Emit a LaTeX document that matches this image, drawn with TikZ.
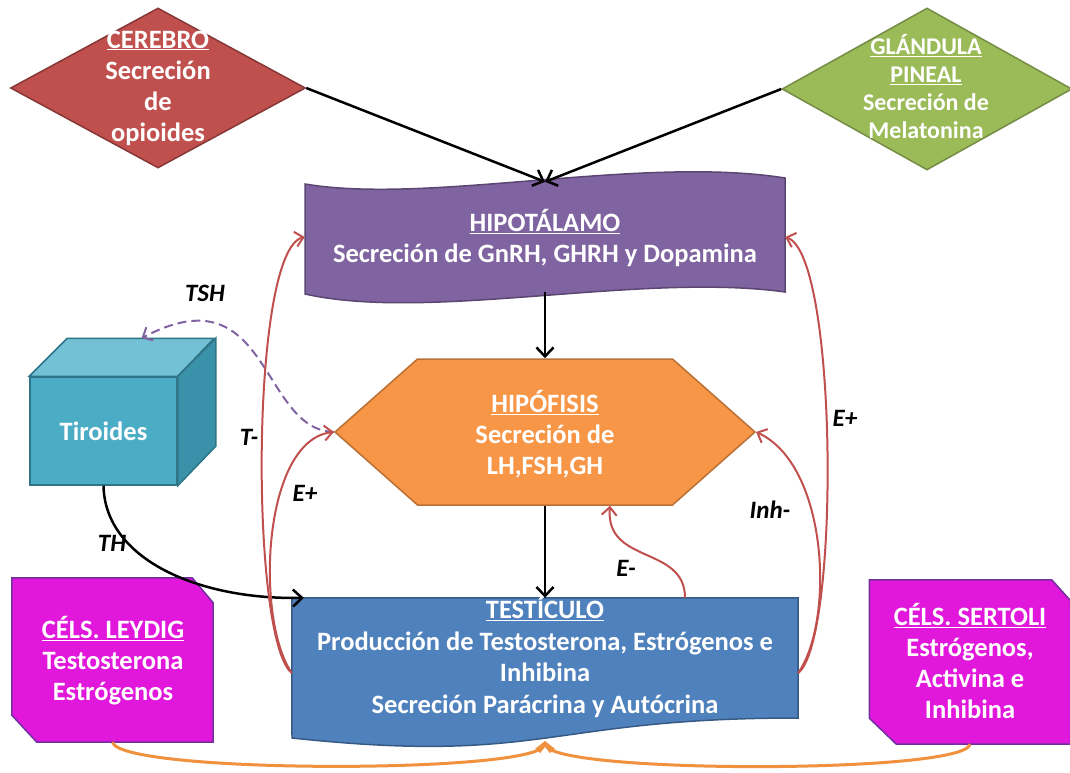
\documentclass[tikz,border=0pt]{standalone}
\usepackage{fontspec}
\setmainfont{Carlito}
\usetikzlibrary{shapes.geometric,shapes.symbols,arrows.meta}

\definecolor{brainred}{HTML}{C0504D}
\definecolor{pinealgreen}{HTML}{9BBB59}
\definecolor{hypopurple}{HTML}{8064A2}
\definecolor{pitorange}{HTML}{F79646}
\definecolor{thyblue}{HTML}{4BACC6}
\definecolor{thytop}{HTML}{74C0D5}
\definecolor{thyside}{HTML}{3A92AA}
\definecolor{testblue}{HTML}{4F81BD}
\definecolor{cellpink}{HTML}{E117DB}
\definecolor{cellrim}{HTML}{7030A0}
\definecolor{braceorange}{HTML}{F0913F}

\tikzset{
  organ/.style={line width=1.5pt},
  txt/.style={text=white, font=\bfseries\fontsize{26.5}{31}\selectfont, align=center},
  hormone/.style={font=\bfseries\itshape\fontsize{25}{30}\selectfont},
  axis/.style={line width=2.5pt, -{Straight Barb[length=9pt,width=17pt]}},
  feedback/.style={draw=brainred, line width=2pt, -{Straight Barb[length=8pt,width=15pt]}},
  cellbox/.style={minimum width=201pt, minimum height=164pt, inner sep=0pt},
}

\begin{document}
\begin{tikzpicture}[x=1pt,y=-1pt]
  \useasboundingbox (0,0) rectangle (1070,773);
  % upper centres
  \node[diamond, organ, fill=brainred, draw=brainred!70!black, minimum width=295pt, minimum height=160pt, inner sep=0pt] (cerebro) at (158,88) {};
  \node[txt] at (cerebro) {\underline{CEREBRO}\\Secreción\\de\\opioides};
  \node[diamond, organ, fill=pinealgreen, draw=pinealgreen!75!black, minimum width=290pt, minimum height=162pt, inner sep=0pt] (pineal) at (927,89) {};
  \node[txt, font=\bfseries\fontsize{24}{28}\selectfont] at (926,87) {\underline{GLÁNDULA}\\\underline{PINEAL}\\Secreción de\\Melatonina};

  % hipotalamo (wave)
  \node[minimum width=480pt, minimum height=110pt, inner sep=0pt] (hipotalamo) at (545,237) {};
  \filldraw[organ, fill=hypopurple, draw=hypopurple!70!black] (305,184) .. controls (430,205) and (640,155) .. (785,178)
    -- (785,292) .. controls (640,272) and (430,322) .. (305,294) -- cycle;
  \node[txt] at (545,238) {\underline{HIPOTÁLAMO}\\Secreción de GnRH, GHRH y Dopamina};

  % hipofisis
  \node[signal, signal to=east and west, signal pointer angle=83, organ, fill=pitorange, draw=pitorange!75!black, minimum width=420pt, minimum height=146pt, inner sep=0pt] (hipofisis) at (545,432) {};
  \node[txt] at (545,434) {\underline{HIPÓFISIS}\\Secreción de\\LH,FSH,GH};

  % tiroides (cube)
  \node[organ, fill=thyblue, draw=thyside!80!black, minimum width=147pt, minimum height=108pt, inner sep=0pt] (tiroides) at (103.5,431) {};
  \filldraw[organ, fill=thytop, draw=thyside!80!black] (tiroides.north west) -- ++(38,-38) -- ++(147,0) -- (tiroides.north east) -- cycle;
  \filldraw[organ, fill=thyside, draw=thyside!80!black] (tiroides.north east) -- ++(38,-38) -- ++(0,108) -- (tiroides.south east) -- cycle;
  \node[txt] at (tiroides) {Tiroides};
  \coordinate (tirtop) at ([xshift=38pt,yshift=38pt]tiroides.north);

  % testiculo (document)
  \node[minimum width=506pt, minimum height=150pt, inner sep=0pt] (testiculo) at (545,673) {};
  \filldraw[organ, fill=testblue, draw=testblue!70!black] (testiculo.north west) -- (testiculo.north east) -- (798,718)
    .. controls (545,718) and (545,765) .. (292,738) -- cycle;
  \node[txt, font=\bfseries\fontsize{26.5}{31.5}\selectfont] at (545,657) {\underline{TESTÍCULO}\\Producción de Testosterona, Estrógenos e\\Inhibina\\Secreción Parácrina y Autócrina};
  \coordinate (tbot) at (545,741);

  % cells (snipped corners)
  \node[cellbox] (leydig) at (112.5,660) {};
  \filldraw[organ, fill=cellpink, draw=cellrim] (leydig.north west) -- ([xshift=-21pt]leydig.north east) -- ([yshift=-25pt]leydig.north east)
    -- (leydig.south east) -- ([xshift=25pt]leydig.south west) -- ([yshift=27pt]leydig.south west) -- cycle;
  \node[txt] at (113,661) {\underline{CÉLS. LEYDIG}\\Testosterona\\Estrógenos};
  \node[cellbox] (sertoli) at (970,662) {};
  \filldraw[organ, fill=cellpink, draw=cellrim] (sertoli.north west) -- ([xshift=-19pt]sertoli.north east) -- ([yshift=-21pt]sertoli.north east)
    -- (sertoli.south east) -- ([xshift=27pt]sertoli.south west) -- ([yshift=26pt]sertoli.south west) -- cycle;
  \node[txt] at (970,661) {\underline{CÉLS. SERTOLI}\\Estrógenos,\\Activina e\\Inhibina};

  % main axis
  \draw[axis] (cerebro.east) -- (hipotalamo.north);
  \draw[axis] (pineal.west) -- (hipotalamo.north);
  \draw[axis] (hipotalamo.south) -- (hipofisis.north);
  \draw[axis] (hipofisis.south) -- (testiculo.north);
  \draw[axis] (tiroides.south) .. controls (105,560) and (200,600) .. ([xshift=12pt]testiculo.north west);
  \draw[hypopurple, line width=2pt, dash pattern=on 9pt off 5pt, -{Straight Barb[length=8pt,width=15pt]}]
    (hipofisis.west) .. controls (260,430) and (270,270) .. (tirtop);

  % feedback
  \draw[feedback] (testiculo.west) .. controls (250,640) and (250,250) .. (hipotalamo.west);
  \draw[feedback] (testiculo.west) .. controls (255,620) and (262,440) .. (hipofisis.west);
  \draw[feedback] (testiculo.east) .. controls (840,640) and (838,255) .. (hipotalamo.east);
  \draw[feedback] (testiculo.east) .. controls (835,620) and (828,465) .. (hipofisis.east);
  \draw[feedback] ([xshift=140pt]testiculo.north) .. controls (685,545) and (605,565) .. ([xshift=65pt]hipofisis.south);

  % paracrine brace
  \draw[braceorange, line width=3pt, -{Straight Barb[length=8pt,width=15pt]}] (leydig.south) .. controls (120,774) and (540,774) .. (tbot);
  \draw[braceorange, line width=3pt, -{Straight Barb[length=8pt,width=15pt]}] (sertoli.south) .. controls (965,774) and (550,774) .. (tbot);

  % labels
  \node[hormone] at (205,293) {TSH};
  \node[hormone] at (112,543) {TH};
  \node[hormone] at (249,437) {T-};
  \node[hormone] at (305,493) {E+};
  \node[hormone] at (845,418) {E+};
  \node[hormone] at (770,510) {Inh-};
  \node[hormone] at (626,568) {E-};
\end{tikzpicture}
\end{document}
